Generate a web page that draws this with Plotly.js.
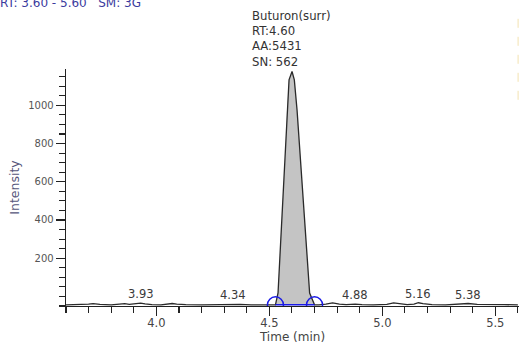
<!DOCTYPE html>
<html>
<head>
<meta charset="utf-8">
<script src="https://cdn.plot.ly/plotly-3.0.1.min.js"></script>
<style>html,body{margin:0;padding:0;background:#fff;}#chart{width:519px;height:346px;}</style>
</head>
<body>
<div id="chart"></div>
<script>
// Chromatogram trace (time in min, intensity)
const times = [3.60,3.66,3.70,3.72,3.75,3.80,3.84,3.86,3.88,3.91,3.93,3.95,3.98,4.02,4.05,4.07,4.09,4.13,4.20,4.26,4.31,4.34,4.37,4.42,4.47,4.51,
  4.527,4.5385,4.5456,4.5588,4.5695,4.5783,4.5872,4.6004,4.6106,4.6226,4.6372,4.6518,4.6695,4.6783,4.70,
  4.72,4.75,4.78,4.81,4.84,4.88,4.91,4.96,5.02,5.05,5.08,5.11,5.14,5.16,5.18,5.22,5.28,5.33,5.38,5.42,5.48,5.54,5.60];
const intensity = [-44,-43,-40,-38,-42,-44,-40,-38,-41,-38,-35,-39,-43,-44,-39,-37,-40,-43,-44,-43,-41,-39,-42,-44,-43,-44,
  -44,18,190,453,715,976,1133,1177,1133,976,715,453,190,18,-44,
  -44,-40,-34,-40,-43,-40,-43,-44,-42,-34,-40,-43,-40,-33,-38,-43,-44,-42,-37,-42,-44,-43,-44];

// Integrated peak
const peakName = "Buturon(surr)";
const peakRT = 4.60;
const peakArea = 5431;
const peakSN = 562;
const peakStart = 4.527;
const peakEnd = 4.70;
const peakBase = -44;

// Small labelled peaks
const smallPeakRT = [3.93, 4.34, 4.88, 5.16, 5.38];

// Axis ticks
const yTickVals = [200, 400, 600, 800, 1000];
const xTickVals = [4.0, 4.5, 5.0, 5.5];

const FONT = "DejaVu Sans, Verdana, sans-serif";

function interp(t) {
  for (let i = 0; i < times.length - 1; i++) {
    if (t >= times[i] && t <= times[i + 1]) {
      const f = (t - times[i]) / (times[i + 1] - times[i]);
      return intensity[i] + f * (intensity[i + 1] - intensity[i]);
    }
  }
  return peakBase;
}

const peakX = [], peakY = [];
times.forEach((t, i) => { if (t >= peakStart && t <= peakEnd) { peakX.push(t); peakY.push(intensity[i]); } });

const traces = [
  { x: [peakStart, peakEnd], y: [peakBase, peakBase], mode: 'lines', line: {color: 'rgba(0,0,0,0)', width: 0}, hoverinfo: 'skip', showlegend: false },
  { x: peakX, y: peakY, mode: 'lines', fill: 'tonexty', fillcolor: '#c4c4c4', line: {color: 'rgba(0,0,0,0)', width: 0}, showlegend: false },
  { x: times, y: intensity, mode: 'lines', line: {color: '#2a2a2a', width: 1.3}, showlegend: false },
  { x: [peakStart, peakEnd], y: [peakBase, peakBase], mode: 'lines', line: {color: '#1a1ae6', width: 1.5}, showlegend: false }
];

const annotations = smallPeakRT.map(rt => ({
  x: rt, y: interp(rt), xref: 'x', yref: 'y', text: rt.toFixed(2), showarrow: false,
  yanchor: 'bottom', xanchor: 'center', font: {family: FONT, size: 11.5, color: '#3a3a3a'}
}));
annotations.push({
  x: peakRT, y: interp(peakRT), xref: 'x', yref: 'y', showarrow: false,
  text: peakName + '<br>RT:' + peakRT.toFixed(2) + '<br>AA:' + peakArea + '<br>SN: ' + peakSN,
  align: 'left', xanchor: 'center', yanchor: 'bottom', yshift: 1,
  font: {family: FONT, size: 11.7, color: '#333333'}
});

const circle = (x0) => ({
  type: 'circle', xref: 'x', yref: 'y', xsizemode: 'pixel', ysizemode: 'pixel',
  xanchor: x0, yanchor: peakBase, x0: -8, x1: 8, y0: -8, y1: 8,
  line: {color: '#1a1ae6', width: 1.5}, fillcolor: 'rgba(0,0,0,0)'
});

const layout = {
  width: 519, height: 346,
  margin: {l: 66, r: 0, t: 69, b: 40},
  paper_bgcolor: '#ffffff', plot_bgcolor: '#ffffff',
  font: {family: FONT, size: 11, color: '#444'},
  title: {text: 'RT: 3.60 - 5.60   SM: 3G', x: 0.0, xanchor: 'left', xref: 'container',
          y: 0.993, yanchor: 'middle', yref: 'container', font: {family: FONT, size: 12, color: '#3b3b9e'}},
  xaxis: {
    range: [3.60, 5.605], showgrid: false, zeroline: false,
    showline: true, linecolor: '#222', linewidth: 1.3,
    ticks: 'outside', tickvals: xTickVals, ticktext: xTickVals.map(v => v.toFixed(1)),
    ticklen: 9, tickwidth: 1.2, tickcolor: '#222', ticklabelstandoff: -3,
    minor: {ticks: 'outside', dtick: 0.1, tick0: 0, ticklen: 6, tickwidth: 1.1, tickcolor: '#222', showgrid: false},
    tickfont: {family: FONT, size: 11.5, color: '#444'},
    title: {text: 'Time (min)', standoff: 3, font: {family: FONT, size: 12, color: '#444'}}
  },
  yaxis: {
    range: [-50, 1190], showgrid: false, zeroline: false,
    showline: true, linecolor: '#222', linewidth: 1.3,
    ticks: 'outside', tickvals: yTickVals, ticklen: 9, tickwidth: 1.2, tickcolor: '#222',
    minor: {ticks: 'outside', dtick: 50, tick0: 0, ticklen: 6, tickwidth: 1.1, tickcolor: '#222', showgrid: false},
    tickfont: {family: FONT, size: 10, color: '#555'},
    title: {text: 'Intensity', standoff: 6, font: {family: FONT, size: 12.5, color: '#55557a'}}
  },
  shapes: [circle(peakStart), circle(peakEnd),
    {type: 'line', xref: 'paper', yref: 'paper', x0: 0.998, x1: 0.998, y0: 0.87, y1: 1.25,
     line: {color: '#f3e2b0', width: 1, dash: 'dash'}}],
  annotations: annotations
};

Plotly.newPlot('chart', traces, layout, {displayModeBar: false, staticPlot: true});
</script>
</body>
</html>
